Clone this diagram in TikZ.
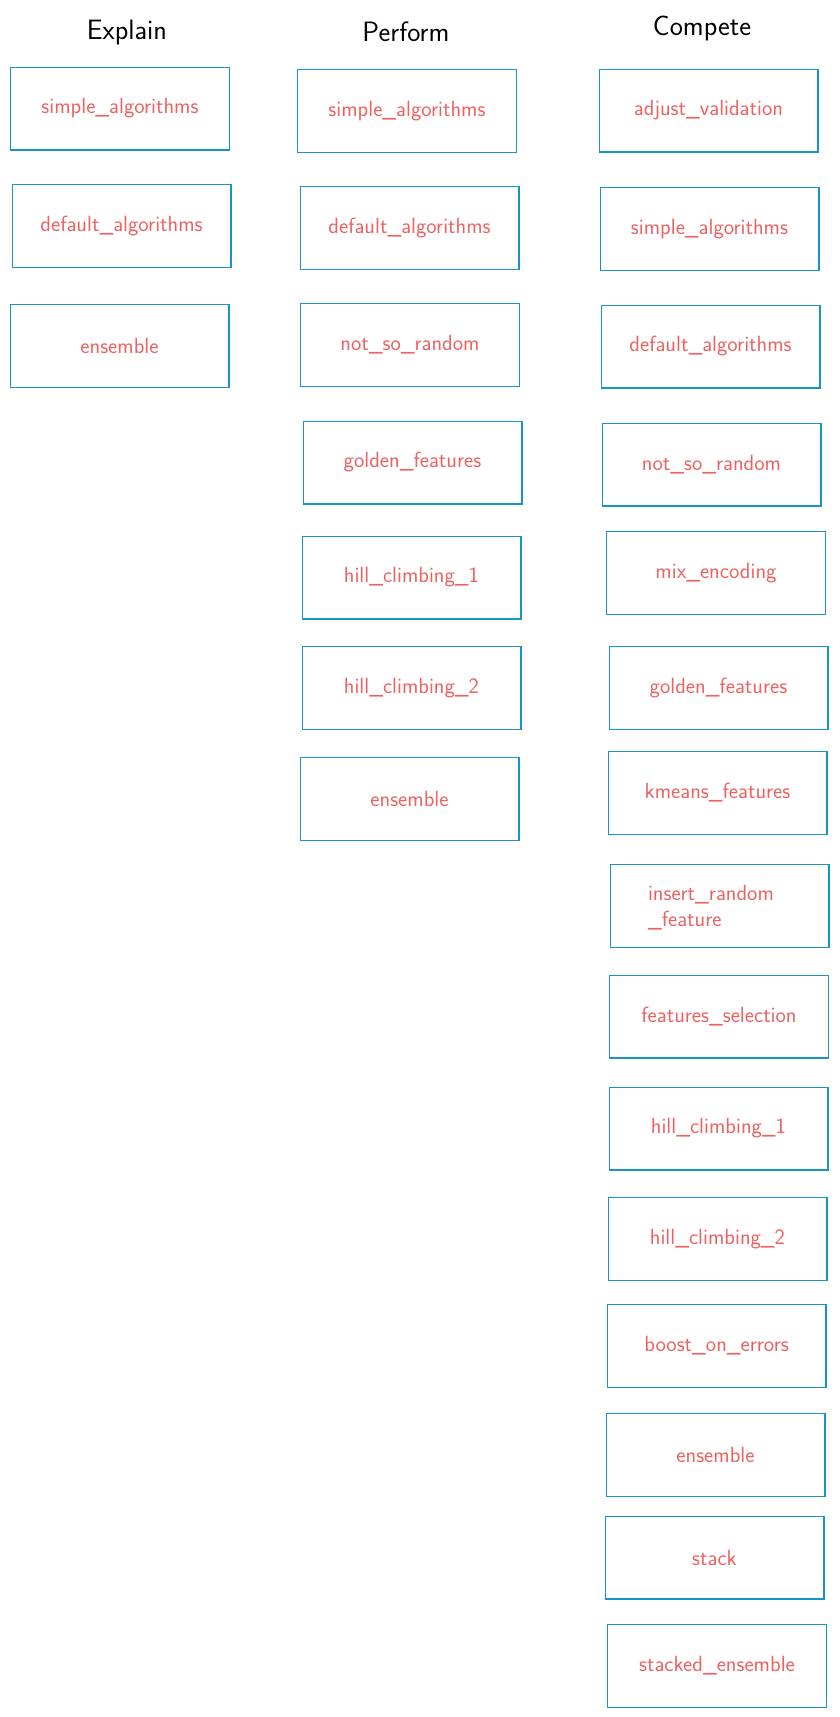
\documentclass[tikz,border=0pt]{standalone}
\usepackage{tikz}
\definecolor{boxblue}{RGB}{22,150,200}
\definecolor{labred}{RGB}{236,98,98}

\begin{document}
\begin{tikzpicture}[x=0.75pt,y=-0.75pt,
  stepbox/.style={draw=boxblue,line width=1pt,minimum width=164pt,minimum height=62pt,
    text=labred,font=\sffamily\fontsize{16.5}{19}\selectfont,inner sep=2pt},
  coltitle/.style={font=\sffamily\fontsize{21}{24}\selectfont}]
\useasboundingbox (0,0) rectangle (839,1717);
% column titles
\node[coltitle] (explain) at (127,33) {Explain};
\node[coltitle] (perform) at (406,32) {Perform};
\node[coltitle] (compete) at (702,28) {Compete};
% Explain
\node[stepbox] (exsimple) at (120,108.5) {simple\_algorithms};
\node[stepbox] (exdefault) at (121.5,226) {default\_algorithms};
\node[stepbox] (exensemble) at (119.5,346) {ensemble};
% Perform
\node[stepbox] (pfsimple) at (407,111) {simple\_algorithms};
\node[stepbox] (pfdefault) at (409.5,228) {default\_algorithms};
\node[stepbox] (pfnotrandom) at (410,345) {not\_so\_random};
\node[stepbox] (pfgolden) at (412.5,462.5) {golden\_features};
\node[stepbox] (pfhillone) at (411.5,577.5) {hill\_climbing\_1};
\node[stepbox] (pfhilltwo) at (411.5,688) {hill\_climbing\_2};
\node[stepbox] (pfensemble) at (409.5,799) {ensemble};
% Compete
\node[stepbox] (cpadjust) at (708.5,110.5) {adjust\_validation};
\node[stepbox] (cpsimple) at (709.5,229) {simple\_algorithms};
\node[stepbox] (cpdefault) at (710.5,346.5) {default\_algorithms};
\node[stepbox] (cpnotrandom) at (711.5,464.5) {not\_so\_random};
\node[stepbox] (cpmix) at (716,573) {mix\_encoding};
\node[stepbox] (cpgolden) at (718.5,688) {golden\_features};
\node[stepbox] (cpkmeans) at (717.5,793) {kmeans\_features};
\node[stepbox,align=left,text depth=0pt] (cpinsert) at (719.5,906) {\hspace*{7pt}insert\_random\\\hspace*{7pt}\_feature\phantom{\_random}};
\node[stepbox] (cpselect) at (719,1016.5) {features\_selection};
\node[stepbox] (cphillone) at (718.5,1128.5) {hill\_climbing\_1};
\node[stepbox] (cphilltwo) at (717.5,1239) {hill\_climbing\_2};
\node[stepbox] (cpboost) at (716.5,1346) {boost\_on\_errors};
\node[stepbox] (cpensemble) at (715.5,1455) {ensemble};
\node[stepbox] (cpstack) at (714.5,1557.5) {stack};
\node[stepbox] (cpstacked) at (717,1666) {stacked\_ensemble};
\end{tikzpicture}
\end{document}
